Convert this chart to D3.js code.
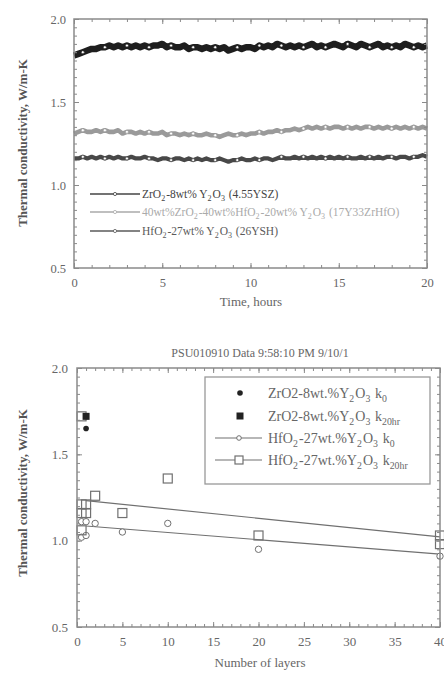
<!DOCTYPE html>
<html><head><meta charset="utf-8">
<script src="https://cdn.jsdelivr.net/npm/d3@7/dist/d3.min.js"></script>
<style>
html,body{margin:0;padding:0;background:#fff;}
svg{display:block;font-family:"Liberation Serif","DejaVu Serif",serif;}
</style></head>
<body>
<svg id="c" width="444" height="681"></svg>
<script>
// ---------- DATA: top chart (time series, 0.25 h step) ----------
const timeStep = 0.25;
const yszValues = [1.78,1.79,1.80,1.81,1.82,1.82,1.83,1.83,1.84,1.83,1.84,1.83,1.84,1.83,1.84,1.83,1.84,1.83,1.84,1.84,1.85,1.83,1.84,1.83,1.83,1.84,1.82,1.83,1.83,1.82,1.83,1.82,1.83,1.82,1.83,1.81,1.82,1.83,1.82,1.83,1.83,1.82,1.84,1.83,1.84,1.83,1.85,1.84,1.83,1.84,1.83,1.84,1.83,1.84,1.85,1.83,1.84,1.83,1.84,1.85,1.84,1.83,1.85,1.84,1.83,1.85,1.84,1.83,1.84,1.85,1.83,1.84,1.83,1.84,1.83,1.85,1.84,1.83,1.84,1.83,1.84];
const zrHfValues = [1.31,1.32,1.33,1.32,1.32,1.33,1.32,1.33,1.32,1.32,1.33,1.31,1.32,1.32,1.31,1.32,1.31,1.32,1.31,1.31,1.32,1.30,1.31,1.31,1.30,1.31,1.30,1.31,1.30,1.30,1.31,1.30,1.30,1.29,1.30,1.31,1.30,1.30,1.31,1.30,1.31,1.31,1.32,1.31,1.32,1.32,1.33,1.32,1.33,1.33,1.34,1.33,1.34,1.35,1.34,1.35,1.34,1.35,1.34,1.35,1.35,1.34,1.35,1.34,1.35,1.34,1.35,1.35,1.34,1.35,1.34,1.35,1.34,1.35,1.34,1.35,1.34,1.35,1.34,1.35,1.34];
const hfValues = [1.16,1.16,1.17,1.16,1.17,1.16,1.17,1.16,1.17,1.16,1.17,1.16,1.16,1.17,1.16,1.16,1.17,1.16,1.16,1.15,1.16,1.16,1.15,1.16,1.16,1.15,1.16,1.15,1.16,1.15,1.16,1.15,1.15,1.16,1.15,1.14,1.15,1.15,1.16,1.15,1.15,1.16,1.15,1.16,1.16,1.15,1.16,1.17,1.16,1.16,1.17,1.16,1.17,1.16,1.17,1.16,1.17,1.16,1.17,1.16,1.17,1.16,1.17,1.16,1.16,1.17,1.16,1.17,1.16,1.17,1.16,1.17,1.17,1.16,1.17,1.17,1.16,1.17,1.17,1.18,1.17];
const topXTicks = [0,5,10,15,20];
const topYTicks = [0.5,1.0,1.5,2.0];
const topLegendLabels = [
  [["ZrO"],["2","s"],["-8wt% Y"],["2","s"],["O"],["3","s"],[" (4.55YSZ)"]],
  [["40wt%ZrO"],["2","s"],["-40wt%HfO"],["2","s"],["-20wt% Y"],["2","s"],["O"],["3","s"],[" (17Y33ZrHfO)"]],
  [["HfO"],["2","s"],["-27wt% Y"],["2","s"],["O"],["3","s"],[" (26YSH)"]]
];

// ---------- DATA: bottom chart (layers) ----------
const zrK0 = [[1,1.65]];
const zrK20 = [[1,1.72]];
const hfK0 = [[0.5,1.02],[0.5,1.11],[1,1.03],[1,1.11],[2,1.10],[5,1.05],[10,1.10],[20,0.95],[40,0.91]];
const hfK20 = [[0.5,1.72],[0.5,1.21],[0.5,1.16],[0.5,1.06],[1,1.21],[1,1.16],[2,1.26],[5,1.16],[10,1.36],[20,1.03],[40,1.03],[40,0.98]];
const hfK0Fit = [[1,1.085],[40,0.922]];
const hfK20Fit = [[1,1.232],[40,1.022]];
const botXTicks = [0,5,10,15,20,25,30,35,40];
const botYTicks = [0.5,1.0,1.5,2.0];
const botTitle = "PSU010910 Data 9:58:10 PM 9/10/1";
const botLegendLabels = [
  [["ZrO2-8wt.%Y"],["2","s"],["O"],["3","s"],[" k"],["0","s"]],
  [["ZrO2-8wt.%Y"],["2","s"],["O"],["3","s"],[" k"],["20hr","s"]],
  [["HfO"],["2","s"],["-27wt.%Y"],["2","s"],["O"],["3","s"],[" k"],["0","s"]],
  [["HfO"],["2","s"],["-27wt.%Y"],["2","s"],["O"],["3","s"],[" k"],["20hr","s"]]
];
const yTitle = "Thermal conductivity, W/m-K";

// ---------- drawing ----------
const svg = d3.select("#c");
const textCol = "#666", frameCol = "#8a8a8a";
const SERIF = "Liberation Serif";

function rich(sel, parts, size){
  parts.forEach(p=>{
    if(p[1]==="s"){
      sel.append("tspan").attr("dy", size*0.3).attr("font-size", size*0.7).text(p[0]);
      sel.append("tspan").attr("dy", -size*0.3).attr("font-size", size).text("\u200A");
    } else sel.append("tspan").attr("font-size", size).text(p[0]);
  });
}

function frame(g, x, y, xMajor, xMinor, yMajor, yMinor, labelSize, padX, padY){
  const [x0,x1] = x.range(), [y0,y1] = y.range();
  const st = a => a.call(s=>{s.attr("font-family",SERIF); s.select(".domain").remove(); s.selectAll("line").attr("stroke",frameCol).attr("stroke-width",1);
                              s.selectAll("text").attr("fill",textCol).attr("font-size",labelSize).attr("font-family",SERIF);});
  g.append("g").attr("transform",`translate(0,${y0})`).call(d3.axisBottom(x).tickValues(xMajor).tickSize(-5).tickPadding(padX).tickFormat(d3.format("d"))).call(st);
  g.append("g").attr("transform",`translate(0,${y0})`).call(d3.axisBottom(x).tickValues(xMinor).tickSize(-3).tickFormat("")).call(st);
  g.append("g").attr("transform",`translate(0,${y1})`).call(d3.axisTop(x).tickValues(xMajor).tickSize(-5).tickFormat("")).call(st);
  g.append("g").attr("transform",`translate(0,${y1})`).call(d3.axisTop(x).tickValues(xMinor).tickSize(-3).tickFormat("")).call(st);
  g.append("g").attr("transform",`translate(${x0},0)`).call(d3.axisLeft(y).tickValues(yMajor).tickSize(-5).tickPadding(padY).tickFormat(d3.format(".1f"))).call(st);
  g.append("g").attr("transform",`translate(${x0},0)`).call(d3.axisLeft(y).tickValues(yMinor).tickSize(-3).tickFormat("")).call(st);
  g.append("g").attr("transform",`translate(${x1},0)`).call(d3.axisRight(y).tickValues(yMajor).tickSize(-5).tickFormat("")).call(st);
  g.append("g").attr("transform",`translate(${x1},0)`).call(d3.axisRight(y).tickValues(yMinor).tickSize(-3).tickFormat("")).call(st);
  g.append("rect").attr("x",x0).attr("y",y1).attr("width",x1-x0).attr("height",y0-y1)
    .attr("fill","none").attr("stroke",frameCol).attr("stroke-width",1.5);
}
const range = (a,b,s)=>d3.range(a,b+s/2,s).map(v=>+v.toFixed(4));

// ===== TOP CHART =====
{
  const g = svg.append("g");
  const x = d3.scaleLinear().domain([0,20]).range([74,427]);
  const y = d3.scaleLinear().domain([0.5,2.0]).range([268,19]);
  const series = [
    {vals:yszValues, col:"#1e1e1e", w:6.5},
    {vals:zrHfValues, col:"#9a9a9a", w:4.6},
    {vals:hfValues, col:"#484848", w:4.2}
  ];
  const line = d3.line().x((d,i)=>x(i*timeStep)).y(d=>y(d)).curve(d3.curveLinear);
  series.forEach(s=>{
    g.append("path").attr("d",line(s.vals)).attr("fill","none").attr("stroke",s.col)
      .attr("stroke-width",s.w).attr("stroke-linejoin","round");
    s.vals.forEach((d,i)=>{ if(i%5===2){
      g.append("circle").attr("cx",x(i*timeStep)).attr("cy",y(d)).attr("r",1.5)
        .attr("fill","#fff").attr("stroke",s.col).attr("stroke-width",0.6);
    }});
  });
  frame(g,x,y,topXTicks,range(0,20,1),topYTicks,range(0.5,2.0,0.05),12.5,10,8);
  // legend
  const legCols = ["#444","#aaa","#5a5a5a"];
  topLegendLabels.forEach((lab,i)=>{
    const yy = [194,212,231][i];
    g.append("line").attr("x1",90).attr("x2",140).attr("y1",yy).attr("y2",yy).attr("stroke",legCols[i]).attr("stroke-width",1.3);
    g.append("circle").attr("cx",115).attr("cy",yy).attr("r",1.6).attr("fill","#fff").attr("stroke",legCols[i]).attr("stroke-width",0.8);
    const t = g.append("text").attr("x",142).attr("y",yy+3.5).attr("fill",legCols[i]).attr("font-family",SERIF);
    rich(t,lab,11.5);
  });
  g.append("text").attr("x",251).attr("y",306).attr("text-anchor","middle").attr("fill",textCol).attr("font-family",SERIF).attr("font-size",13).text("Time, hours");
  g.append("text").attr("transform","translate(27,143) rotate(-90)").attr("text-anchor","middle").attr("font-family",SERIF)
    .attr("fill","#555").attr("font-size",13).attr("font-weight","bold").text(yTitle);
}

// ===== BOTTOM CHART =====
{
  const g = svg.append("g");
  const x = d3.scaleLinear().domain([0,40]).range([77,440]);
  const y = d3.scaleLinear().domain([0.5,2.0]).range([627,368]);
  const mcol = "#707070";
  const line = d3.line().x(d=>x(d[0])).y(d=>y(d[1]));
  [hfK0Fit,hfK20Fit].forEach(f=>g.append("path").attr("d",line(f)).attr("fill","none").attr("stroke",mcol).attr("stroke-width",1.2));
  g.selectAll(".c0").data(hfK0).join("circle").attr("cx",d=>x(d[0])).attr("cy",d=>y(d[1])).attr("r",3.2)
    .attr("fill","#fff").attr("stroke",mcol).attr("stroke-width",1);
  g.selectAll(".s20").data(hfK20).join("rect").attr("x",d=>x(d[0])-4.5).attr("y",d=>y(d[1])-4.5).attr("width",9).attr("height",9)
    .attr("fill","none").attr("stroke",mcol).attr("stroke-width",1.2);
  g.selectAll(".z0").data(zrK0).join("circle").attr("cx",d=>x(d[0])).attr("cy",d=>y(d[1])).attr("r",2.8).attr("fill","#222");
  g.selectAll(".z20").data(zrK20).join("rect").attr("x",d=>x(d[0])-3.5).attr("y",d=>y(d[1])-3.5).attr("width",7).attr("height",7).attr("fill","#222");
  frame(g,x,y,botXTicks,range(0,40,1),botYTicks,range(0.5,2.0,0.05),13,10,9);
  // legend
  g.append("rect").attr("x",205).attr("y",377).attr("width",225).attr("height",107).attr("fill","#fff").attr("stroke","#999").attr("stroke-width",1.3);
  const rows = [393,416,438,460];
  g.append("circle").attr("cx",240).attr("cy",rows[0]).attr("r",2.8).attr("fill","#222");
  g.append("rect").attr("x",236.5).attr("y",rows[1]-3.5).attr("width",7).attr("height",7).attr("fill","#222");
  [2,3].forEach(i=>g.append("line").attr("x1",215).attr("x2",262).attr("y1",rows[i]).attr("y2",rows[i]).attr("stroke",mcol).attr("stroke-width",1.2));
  g.append("circle").attr("cx",239).attr("cy",rows[2]).attr("r",2.3).attr("fill","#fff").attr("stroke",mcol);
  g.append("rect").attr("x",235).attr("y",rows[3]-4).attr("width",8).attr("height",8).attr("fill","#fff").attr("stroke",mcol).attr("stroke-width",1.2);
  botLegendLabels.forEach((lab,i)=>{
    const t = g.append("text").attr("x",268).attr("y",rows[i]+4.5).attr("fill","#666").attr("font-family",SERIF);
    rich(t,lab,14);
  });
  g.append("text").attr("x",260).attr("y",357).attr("text-anchor","middle").attr("fill",textCol).attr("font-family",SERIF).attr("font-size",12).text(botTitle);
  g.append("text").attr("x",260).attr("y",667).attr("text-anchor","middle").attr("fill",textCol).attr("font-family",SERIF).attr("font-size",13).text("Number of layers");
  g.append("text").attr("transform","translate(27,493) rotate(-90)").attr("text-anchor","middle").attr("font-family",SERIF)
    .attr("fill","#555").attr("font-size",13).attr("font-weight","bold").text(yTitle);
}
</script>
</body></html>
